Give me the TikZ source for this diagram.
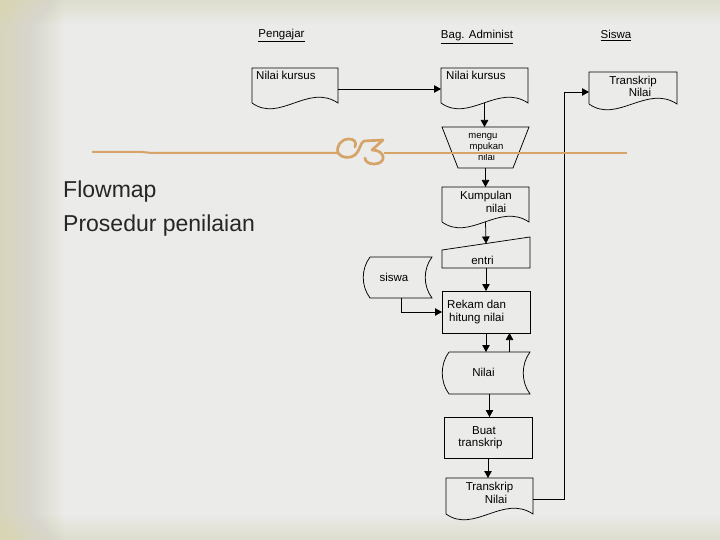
\documentclass[tikz,border=0pt]{standalone}
\usepackage{fontspec}
\setmainfont{Liberation Sans}
\usetikzlibrary{arrows.meta,calc}
\definecolor{bg}{RGB}{235,235,234}
\definecolor{beige}{RGB}{216,213,180}
\definecolor{tanc}{RGB}{214,164,104}
\definecolor{ttl}{RGB}{38,38,38}
\newcommand\mydoc[1]{\draw[ln] (#1.south west) -- (#1.north west) -- (#1.north east) -- (#1.south east) .. controls +(-30,-20) and +(28,20) .. (#1.south west);}
\newcommand\mystored[1]{\draw[ln] (#1.north west) -- (#1.north east) .. controls +(-9,12) and +(-9,-12) .. (#1.south east) -- (#1.south west) .. controls +(-9,-12) and +(-9,12) .. (#1.north west);}
\newcommand\mymanual[1]{\draw[ln] ($(#1.north west)+(0,13)$) -- (#1.north east) -- (#1.south east) -- (#1.south west) -- cycle;}
\begin{document}
\begin{tikzpicture}[x=1pt,y=-1pt,
  box/.style={inner sep=0, outer sep=0, draw=none},
  ln/.style={draw=black, line width=0.75pt},
  arr/.style={ln, -{Triangle[length=7pt,width=7.5pt]}},
  txt/.style={font=\fontsize{11.5}{13}\selectfont, inner sep=0, text=black},
  stxt/.style={font=\fontsize{9.5}{11}\selectfont, inner sep=0, text=black},
  ttlf/.style={font=\fontsize{23}{27}\selectfont, inner sep=0, text=ttl, anchor=base west},
  orn/.style={draw=tanc, line width=2.7pt, line cap=round, line join=round}]
\useasboundingbox (0,0) rectangle (720,540);
% background
\fill[bg] (0,0) rectangle (720,540);
\foreach \i in {1,...,40} {\fill[beige, fill opacity=0.025] (0,0) rectangle (1.6*\i,540);}
\foreach \i in {1,...,14} {\fill[beige, fill opacity=0.03] (0,0) rectangle (720,1.8*\i);}
\foreach \i in {1,...,14} {\fill[beige, fill opacity=0.03] (0,540) rectangle (720,540-1.8*\i);}
% headers
\node[txt, anchor=base] (hp) at (281.5,37.5) {\underline{Pengajar}};
\node[txt, anchor=base] (ha) at (477,39) {\underline{Bag. Administ}};
\node[txt, anchor=base] (hs) at (616,39) {\underline{Siswa}};
% shapes
\node[box, minimum width=86, minimum height=35] (p1) at (295,85.5) {};
\node[box, minimum width=87, minimum height=35] (a1) at (484.5,85.5) {};
\node[box, minimum width=88, minimum height=32] (s1) at (633,88) {};
\node[box, minimum width=87, minimum height=41] (tr) at (485.5,147.5) {};
\node[box, minimum width=87, minimum height=35] (kn) at (485.5,204.5) {};
\node[box, minimum width=88, minimum height=31] (en) at (486,252.5) {};
\node[box, minimum width=88, minimum height=42] (rk) at (486,312) {};
\node[box, minimum width=62, minimum height=41] (sw) at (401,277.5) {};
\node[box, minimum width=81, minimum height=42] (nl) at (489.5,373) {};
\node[box, minimum width=88, minimum height=41] (bt) at (488,437.5) {};
\node[box, minimum width=87, minimum height=36] (tn) at (489.5,496) {};
\mydoc{p1}
\mydoc{a1}
\mydoc{s1}
\mydoc{kn}
\mydoc{tn}
\draw[ln] (tr.north west) -- (tr.north east) -- ($(tr.south east)+(-16,0)$) -- ($(tr.south west)+(16,0)$) -- cycle;
\mymanual{en}
\draw[ln] (rk.north west) rectangle (rk.south east);
\draw[ln] (bt.north west) rectangle (bt.south east);
\mystored{sw}
\mystored{nl}
% texts
\node[txt, anchor=base west] (tp1) at (256,80) {Nilai kursus};
\node[txt, anchor=base west] (ta1) at (446,80) {Nilai kursus};
\node[txt, anchor=base] (ts1a) at (633,85) {Transkrip};
\node[txt, anchor=base] (ts1b) at (640,97) {Nilai};
\node[stxt, anchor=base] (ttra) at (483,138.5) {mengu};
\node[stxt, anchor=base] (ttrb) at (486.5,149.5) {mpukan};
\node[stxt, anchor=base] (ttrc) at (486.5,160.5) {nilai};
\node[txt, anchor=base] (tkna) at (486,200) {Kumpulan};
\node[txt, anchor=base] (tknb) at (496,212.5) {nilai};
\node[txt, anchor=base] (ten) at (482.5,264) {entri};
\node[txt, anchor=base] (tsw) at (394,281.5) {siswa};
\node[txt, anchor=base west] (trka) at (447,308) {Rekam dan};
\node[txt, anchor=base west] (trkb) at (449,321) {hitung nilai};
\node[txt, anchor=base] (tnl) at (483.5,376.5) {Nilai};
\node[txt, anchor=base] (tbta) at (484,434) {Buat};
\node[txt, anchor=base] (tbtb) at (480.5,446.5) {transkrip};
\node[txt, anchor=base] (ttna) at (489.5,490.5) {Transkrip};
\node[txt, anchor=base] (ttnb) at (496,503) {Nilai};
% connectors
\draw[arr] ($(p1.east)+(0,3.5)$) -- ($(a1.west)+(0,3.5)$);
\draw[arr] (a1.south) -- (a1.south |- tr.north);
\draw[arr] (tr.south) -- (tr.south |- kn.north);
\draw[arr] (kn.south) -- ($(en.north)+(0,6.5)$);
\draw[arr] (en.south) -- (en.south |- rk.north);
\draw[arr] (sw.south) |- (rk.west);
\draw[arr] (rk.south) -- (rk.south |- nl.north);
\draw[arr] ([xshift=20pt]nl.north) -- ([xshift=20pt]nl.north |- rk.south);
\draw[arr] (nl.south) -- (nl.south |- bt.north);
\draw[arr] (bt.south) -- (bt.south |- tn.north);
\draw[arr] ($(tn.east)+(0,3)$) -- ++(31,0) |- ($(s1.west)+(0,4)$);
% title
\node[ttlf] (t1) at (63,198) {Flowmap};
\node[ttlf] (t2) at (63,232) {Prosedur penilaian};
% decorative line and ornament
\draw[tanc, line width=2pt] (92,151.8) -- (140,151.8) -- (152,153) -- (338,153);
\draw[tanc, line width=2pt] (384,153) -- (627,153);
\draw[orn] (338,153) .. controls (336,146) and (341,139) .. (349,139) .. controls (354,139) and (357,142) .. (355,147);
\draw[orn] (338,153) .. controls (341,158) and (350,159) .. (355,155)
  .. controls (360,151) and (360,143) .. (364,141) -- (383,140) -- (372,150)
  .. controls (386,150) and (387,164) .. (374,164) .. controls (368,164) and (365,161) .. (365,158);
\end{tikzpicture}
\end{document}
